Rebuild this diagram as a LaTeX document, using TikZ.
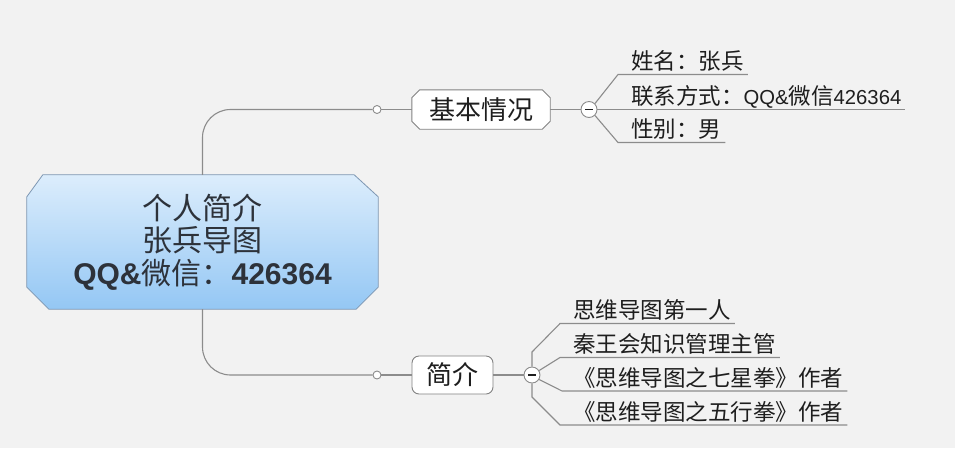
\documentclass[tikz,border=0pt]{standalone}
\usepackage{fontspec}
\setmainfont{Noto Sans CJK SC}
\newfontfamily\latS[Scale=0.9]{Liberation Sans}
\newfontfamily\latB{Liberation Sans}
\usetikzlibrary{calc}
\pgfdeclarelayer{bg}
\pgfdeclarelayer{mid}
\pgfsetlayers{bg,mid,main}
\definecolor{bggray}{RGB}{242,242,242}
\definecolor{linegray}{RGB}{140,140,140}
\definecolor{boxgray}{RGB}{130,130,130}
\definecolor{leaftext}{RGB}{30,30,30}
\definecolor{centertext}{RGB}{45,50,58}
\definecolor{ctop}{RGB}{220,237,252}
\definecolor{cbot}{RGB}{148,199,244}
\definecolor{cborder}{RGB}{125,150,178}
\begin{document}
\begin{tikzpicture}[x=1pt,y=-1pt,
  conn/.style={draw=linegray, line width=1.1pt},
  central/.style={minimum width=351pt, minimum height=134pt, inner sep=0pt, align=center,
    font=\fontsize{30}{32.5}\selectfont, text=centertext},
  topicbox/.style={minimum width=138pt, minimum height=39pt, inner sep=0pt,
    font=\fontsize{26}{26}\selectfont, text=leaftext},
  roundbox/.style={draw=boxgray, line width=0.9pt, fill=white, rounded corners=7pt,
    minimum width=81pt, minimum height=38pt, inner sep=0pt,
    font=\fontsize{26}{26}\selectfont, text=leaftext},
  dot/.style={circle, draw=linegray, line width=0.9pt, fill=white, minimum size=8pt, inner sep=0pt},
  collapse/.style={circle, draw=linegray, line width=0.9pt, fill=white, minimum size=16pt, inner sep=0pt},
  minusbar/.style={draw=leaftext, line width=1.1pt},
  leaf/.style={anchor=south west, inner xsep=4pt, inner ysep=0pt, text depth=4.5pt,
    font=\fontsize{22.5}{22.5}\selectfont, text=leaftext}
]
\useasboundingbox (0,0) rectangle (955,448);
\begin{pgfonlayer}{bg}
\fill[bggray] (0,0) rectangle (955,448);
\end{pgfonlayer}

% central topic
\node[central] (c) at (202.5,242) {个人简介\\张兵导图\\{\latB\bfseries QQ\&}微信：{\latB\bfseries 426364}};
\begin{pgfonlayer}{mid}
\shade[top color=ctop, bottom color=cbot, draw=cborder, line width=0.8pt]
  ($(c.north west)+(16,0)$) -- ($(c.north east)+(-24,0)$) -- ($(c.north east)+(0,22)$)
  -- ($(c.south east)+(0,-22)$) -- ($(c.south east)+(-22,0)$) -- ($(c.south west)+(22,0)$)
  -- ($(c.south west)+(0,-22)$) -- ($(c.north west)+(0,22)$) -- cycle;
\end{pgfonlayer}

% upper branch
\node[dot] (s1) at (377,109.5) {};
\node[topicbox] (b1) at (481,109.5) {基本情况};
\begin{pgfonlayer}{mid}
\filldraw[fill=white, draw=boxgray, line width=0.9pt]
  ($(b1.north west)+(8,0)$) -- ($(b1.north east)+(-8,0)$) -- ($(b1.north east)+(0,8)$)
  -- ($(b1.south east)+(0,-8)$) -- ($(b1.south east)+(-8,0)$) -- ($(b1.south west)+(8,0)$)
  -- ($(b1.south west)+(0,-8)$) -- ($(b1.north west)+(0,8)$) -- cycle;
\end{pgfonlayer}
\node[collapse] (m1) at (589,109.5) {};
\node[leaf] (l1) at (627,74.5) {姓名：张兵};
\node[leaf] (l2) at (627,109.5) {联系方式：{\latS QQ\&}微信{\latS 426364}};
\node[leaf] (l3) at (627,142.5) {性别：男};

% lower branch
\node[dot] (s2) at (377,375) {};
\node[roundbox] (b2) at (452.5,375) {简介};
\node[collapse] (m2) at (532,375) {};
\node[leaf] (k1) at (569,323.5) {思维导图第一人};
\node[leaf] (k2) at (569,357.5) {秦王会知识管理主管};
\node[leaf] (k3) at (569,391) {《思维导图之七星拳》作者};
\node[leaf] (k4) at (569,425) {《思维导图之五行拳》作者};

% connectors
\draw[conn, rounded corners=28pt] (c.north) |- (s1.west);
\draw[conn] (s1) -- (b1);
\draw[conn] (b1) -- (m1);
\draw[conn] (m1.45) -- (618,74.5) -- (l1.south east);
\draw[conn] (m1.east) -- (l2.south east);
\draw[conn] (m1.-45) -- (618,142.5) -- (l3.south east);

\draw[conn, rounded corners=28pt] (c.south) |- (s2.west);
\draw[conn] (s2) -- (b2);
\draw[conn] (b2) -- (m2);
\draw[conn] (m2.north) -- (532,352) -- (560,323.5) -- (k1.south east);
\draw[conn] (m2.32) -- (560,357.5) -- (k2.south east);
\draw[conn] (m2.-32) -- (562,391) -- (k3.south east);
\draw[conn] (m2.south) -- (532,397) -- (560,425) -- (k4.south east);

% collapse signs
\draw[minusbar] ($(m1.center)+(-4,0)$) -- ($(m1.center)+(4,0)$);
\draw[minusbar] ($(m2.center)+(-4,0)$) -- ($(m2.center)+(4,0)$);
\end{tikzpicture}
\end{document}
